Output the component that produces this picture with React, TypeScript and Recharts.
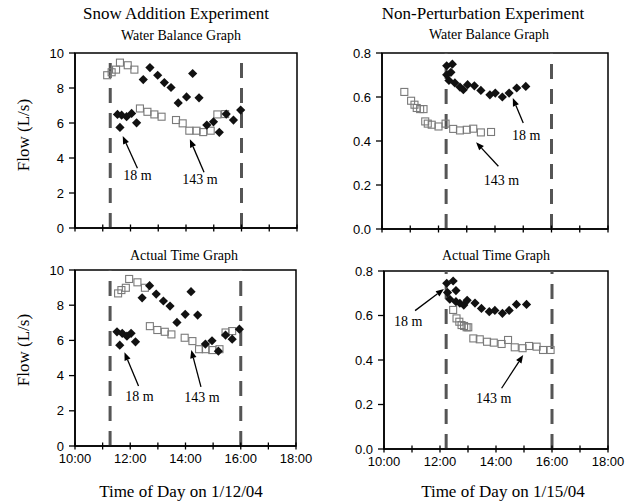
import React from "react";
import {
  ReferenceArea,
  ReferenceLine,
  Scatter,
  ScatterChart,
  XAxis,
  YAxis,
} from "recharts";

// snow addition, water balance graph (time in decimal hours)
const SNOW_WB_18_T = [11.53, 11.68, 11.62, 11.86, 12.04, 12.22, 12.46, 12.7, 12.98, 13.22, 13.46, 13.72, 14.02, 14.24, 14.47, 14.75, 14.99, 15.2, 15.45, 15.71, 15.97];
const SNOW_WB_18_Q = [6.49, 6.45, 5.75, 6.36, 6.55, 6.01, 8.48, 9.17, 8.73, 8.31, 8.03, 7.15, 7.49, 8.83, 7.44, 5.88, 6.07, 5.47, 6.51, 6.17, 6.74];
const SNOW_WB_143_T = [11.16, 11.32, 11.48, 11.62, 11.9, 12.14, 12.34, 12.61, 12.86, 13.12, 13.64, 13.88, 14.12, 14.38, 14.62, 14.89, 15.13, 15.41];
const SNOW_WB_143_Q = [8.73, 8.9, 9.05, 9.45, 9.3, 9.05, 6.83, 6.64, 6.49, 6.36, 6.17, 5.98, 5.56, 5.56, 5.48, 5.56, 6.49, 6.51];

// snow addition, actual time graph
const SNOW_AT_18_T = [11.52, 11.71, 11.62, 11.88, 12.03, 12.19, 12.43, 12.7, 12.94, 13.2, 13.44, 13.69, 13.99, 14.2, 14.44, 14.72, 14.96, 15.19, 15.45, 15.69, 15.95];
const SNOW_AT_18_Q = [6.49, 6.4, 5.73, 6.24, 6.4, 5.92, 8.42, 9.11, 8.63, 8.24, 7.95, 7.02, 7.48, 8.77, 7.44, 5.79, 5.98, 5.39, 6.3, 6.07, 6.64];
const SNOW_AT_143_T = [11.56, 11.68, 11.84, 11.96, 12.26, 12.53, 12.71, 12.98, 13.25, 13.49, 13.97, 14.25, 14.49, 14.73, 14.97, 15.23, 15.45, 15.69];
const SNOW_AT_143_Q = [8.67, 8.86, 8.99, 9.49, 9.3, 8.99, 6.81, 6.59, 6.49, 6.34, 6.15, 5.96, 5.5, 5.5, 5.45, 5.5, 6.45, 6.53];

// non-perturbation, water balance graph
const NP_WB_18_T = [12.29, 12.49, 12.44, 12.29, 12.37, 12.58, 12.76, 12.88, 13.03, 13.27, 13.5, 13.82, 14.01, 14.26, 14.5, 14.77, 15.09];
const NP_WB_18_Q = [0.742, 0.749, 0.712, 0.701, 0.675, 0.664, 0.645, 0.633, 0.656, 0.651, 0.63, 0.61, 0.618, 0.6, 0.618, 0.641, 0.648];
const NP_WB_143_T = [10.79, 11.03, 11.15, 11.23, 11.35, 11.47, 11.53, 11.62, 11.76, 12.0, 12.25, 12.52, 12.76, 13.0, 13.23, 13.5, 13.86];
const NP_WB_143_Q = [0.623, 0.583, 0.565, 0.55, 0.545, 0.545, 0.489, 0.479, 0.474, 0.466, 0.479, 0.455, 0.448, 0.451, 0.456, 0.439, 0.441];

// non-perturbation, actual time graph
const NP_AT_18_T = [12.24, 12.47, 12.57, 12.27, 12.35, 12.57, 12.71, 12.85, 12.97, 13.25, 13.48, 13.76, 13.96, 14.23, 14.47, 14.73, 15.09];
const NP_AT_18_Q = [0.745, 0.755, 0.712, 0.703, 0.673, 0.662, 0.655, 0.647, 0.668, 0.656, 0.632, 0.617, 0.623, 0.61, 0.623, 0.65, 0.65];
const NP_AT_143_T = [12.47, 12.59, 12.69, 12.77, 12.86, 12.95, 13.01, 13.19, 13.42, 13.68, 13.92, 14.2, 14.43, 14.67, 14.95, 15.18, 15.45, 15.68, 15.95];
const NP_AT_143_Q = [0.625, 0.587, 0.572, 0.557, 0.553, 0.547, 0.547, 0.497, 0.493, 0.482, 0.478, 0.472, 0.49, 0.457, 0.453, 0.463, 0.46, 0.445, 0.445];

const HOUR_TICKS = [10, 11, 12, 13, 14, 15, 16, 17, 18];
const SNOW_Y_TICKS = [0, 2, 4, 6, 8, 10];
const NP_Y_TICKS = [0, 0.2, 0.4, 0.6, 0.8];

const SERIF = '"Liberation Serif", "Times New Roman", serif';
const SANS = '"Liberation Sans", Arial, sans-serif';
const DASH_GREY = "#555555";
const SQUARE_GREY = "#7a7a7a";
const X_TICK_SIZE = 4;
const X_TICK_MARGIN = 4;

const zip = (t: number[], q: number[]) => t.map((x, i) => ({ t: x, q: q[i] }));

function Diamond(props: any) {
  const { cx, cy } = props;
  if (cx == null || cy == null) return null;
  const r = 4.6;
  return (
    <polygon
      points={`${cx},${cy - r} ${cx + r},${cy} ${cx},${cy + r} ${cx - r},${cy}`}
      fill="#111"
    />
  );
}

function Square(props: any) {
  const { cx, cy } = props;
  if (cx == null || cy == null) return null;
  const s = 7;
  return (
    <rect
      x={cx - s / 2}
      y={cy - s / 2}
      width={s}
      height={s}
      fill="none"
      stroke={SQUARE_GREY}
      strokeWidth={1.1}
    />
  );
}

// x ticks in the original cross the axis line, so draw them by hand
function makeXTick(showLabels: boolean) {
  return (p: any) => {
    const { x, y, payload } = p;
    const axisY = y - X_TICK_SIZE - X_TICK_MARGIN;
    const h = payload.value as number;
    return (
      <g>
        <line x1={x} x2={x} y1={axisY - 3.5} y2={axisY + 3.5} stroke="#000" strokeWidth={1.3} />
        {showLabels && h % 2 === 0 ? (
          <text
            x={x}
            y={y}
            dy="0.71em"
            textAnchor="middle"
            fontFamily={SANS}
            fontSize={13}
            fill="#000"
          >
            {`${h}:00`}
          </text>
        ) : null}
      </g>
    );
  };
}

type Note = {
  text: string;
  tail: [number, number];
  tip: [number, number];
  dx: number;
  dy: number;
};

function arrowShape(note: Note) {
  return (p: any) => {
    const { x1, y1, x2, y2 } = p;
    if (x1 == null || x2 == null) return <g />;
    const ang = Math.atan2(y2 - y1, x2 - x1);
    const len = 8;
    const half = 3.2;
    const bx = x2 - len * Math.cos(ang);
    const by = y2 - len * Math.sin(ang);
    const nx = -Math.sin(ang) * half;
    const ny = Math.cos(ang) * half;
    return (
      <g>
        <line x1={x1} y1={y1} x2={bx} y2={by} stroke="#000" strokeWidth={1.3} />
        <polygon
          points={`${x2},${y2} ${bx + nx},${by + ny} ${bx - nx},${by - ny}`}
          fill="#000"
        />
        <text
          x={x1 + note.dx}
          y={y1 + note.dy}
          textAnchor="middle"
          dominantBaseline="central"
          fontFamily={SERIF}
          fontSize={14}
          fill="#000"
        >
          {note.text}
        </text>
      </g>
    );
  };
}

type PanelProps = {
  left: number;
  top: number;
  width: number;
  height: number;
  margin: { top: number; right: number; bottom: number; left: number };
  d18: { t: number; q: number }[];
  d143: { t: number; q: number }[];
  yMax: number;
  yTicks: number[];
  yFmt: (v: number) => string;
  showXLabels: boolean;
  dashes: number[];
  notes: Note[];
};

function Panel(props: PanelProps) {
  const { yMax } = props;
  return (
    <div style={{ position: "absolute", left: props.left, top: props.top }}>
      <ScatterChart width={props.width} height={props.height} margin={props.margin}>
        <XAxis
          type="number"
          dataKey="t"
          domain={[10, 18]}
          ticks={HOUR_TICKS}
          interval={0}
          height={25}
          tickSize={X_TICK_SIZE}
          tickMargin={X_TICK_MARGIN}
          tick={makeXTick(props.showXLabels)}
          tickLine={false}
          axisLine={{ stroke: "#000", strokeWidth: 1.5 }}
        />
        <YAxis
          type="number"
          dataKey="q"
          domain={[0, yMax]}
          ticks={props.yTicks}
          interval={0}
          width={45}
          tickSize={6}
          tickMargin={5}
          tickFormatter={props.yFmt}
          tick={{ fill: "#000", fontSize: 13, fontFamily: SANS }}
          tickLine={{ stroke: "#000", strokeWidth: 1.3 }}
          axisLine={{ stroke: "#000", strokeWidth: 1.5 }}
        />
        <ReferenceArea
          x1={10}
          x2={18}
          y1={0}
          y2={yMax}
          fill="none"
          fillOpacity={0}
          stroke="#000"
          strokeWidth={1.5}
        />
        {props.dashes.map((x) => (
          <ReferenceLine
            key={x}
            x={x}
            stroke={DASH_GREY}
            strokeWidth={3}
            strokeDasharray="15 10"
          />
        ))}
        <Scatter data={props.d143} shape={<Square />} isAnimationActive={false} />
        <Scatter data={props.d18} shape={<Diamond />} isAnimationActive={false} />
        {props.notes.map((n) => (
          <ReferenceLine
            key={n.text}
            segment={[
              { x: n.tail[0], y: n.tail[1] },
              { x: n.tip[0], y: n.tip[1] },
            ]}
            shape={arrowShape(n)}
          />
        ))}
      </ScatterChart>
    </div>
  );
}

function Txt({
  x,
  y,
  size,
  children,
  rotate,
}: {
  x: number;
  y: number;
  size: number;
  children: React.ReactNode;
  rotate?: boolean;
}) {
  return (
    <div
      style={{
        position: "absolute",
        left: x,
        top: y,
        transform: `translate(-50%, -50%)${rotate ? " rotate(-90deg)" : ""}`,
        fontFamily: SERIF,
        fontSize: size,
        lineHeight: 1,
        whiteSpace: "nowrap",
        color: "#000",
      }}
    >
      {children}
    </div>
  );
}

const intFmt = (v: number) => String(v);
const oneDec = (v: number) => v.toFixed(1);

export default function App() {
  return (
    <div
      style={{
        position: "absolute",
        left: 0,
        top: 0,
        width: 638,
        height: 502,
        background: "#fff",
        overflow: "hidden",
      }}
    >
      <Panel
        left={0}
        top={0}
        width={320}
        height={260}
        margin={{ top: 53, right: 23, bottom: 7, left: 30 }}
        d18={zip(SNOW_WB_18_T, SNOW_WB_18_Q)}
        d143={zip(SNOW_WB_143_T, SNOW_WB_143_Q)}
        yMax={10}
        yTicks={SNOW_Y_TICKS}
        yFmt={intFmt}
        showXLabels={false}
        dashes={[11.27, 16]}
        notes={[
          { text: "18 m", tail: [12.25, 3.42], tip: [11.72, 5.26], dx: 0, dy: 7 },
          { text: "143 m", tail: [14.65, 3.19], tip: [14.14, 5.07], dx: -4, dy: 7 },
        ]}
      />
      <Panel
        left={320}
        top={0}
        width={318}
        height={260}
        margin={{ top: 53, right: 30, bottom: 6, left: 17 }}
        d18={zip(NP_WB_18_T, NP_WB_18_Q)}
        d143={zip(NP_WB_143_T, NP_WB_143_Q)}
        yMax={0.8}
        yTicks={NP_Y_TICKS}
        yFmt={oneDec}
        showXLabels={false}
        dashes={[12.27, 16]}
        notes={[
          { text: "18 m", tail: [15.0, 0.482], tip: [14.63, 0.595], dx: 3, dy: 13 },
          { text: "143 m", tail: [14.12, 0.285], tip: [13.33, 0.394], dx: 3, dy: 14 },
        ]}
      />
      <Panel
        left={0}
        top={250}
        width={320}
        height={230}
        margin={{ top: 20, right: 24, bottom: 9, left: 30 }}
        d18={zip(SNOW_AT_18_T, SNOW_AT_18_Q)}
        d143={zip(SNOW_AT_143_T, SNOW_AT_143_Q)}
        yMax={10}
        yTicks={SNOW_Y_TICKS}
        yFmt={intFmt}
        showXLabels={true}
        dashes={[11.27, 16]}
        notes={[
          { text: "18 m", tail: [12.3, 3.41], tip: [11.79, 5.32], dx: 1, dy: 11 },
          { text: "143 m", tail: [14.56, 3.36], tip: [14.21, 5.45], dx: 1, dy: 11 },
        ]}
      />
      <Panel
        left={320}
        top={250}
        width={318}
        height={230}
        margin={{ top: 21, right: 30, bottom: 6, left: 19 }}
        d18={zip(NP_AT_18_T, NP_AT_18_Q)}
        d143={zip(NP_AT_143_T, NP_AT_143_Q)}
        yMax={0.8}
        yTicks={NP_Y_TICKS}
        yFmt={oneDec}
        showXLabels={true}
        dashes={[12.22, 16]}
        notes={[
          { text: "18 m", tail: [11.11, 0.622], tip: [12.14, 0.719], dx: -7, dy: 11 },
          { text: "143 m", tail: [14.2, 0.273], tip: [14.97, 0.422], dx: -8, dy: 10 },
        ]}
      />

      <Txt x={176} y={13} size={17}>Snow Addition Experiment</Txt>
      <Txt x={181} y={36} size={14}>Water Balance Graph</Txt>
      <Txt x={483} y={13} size={17}>Non-Perturbation Experiment</Txt>
      <Txt x={489} y={35} size={14}>Water Balance Graph</Txt>
      <Txt x={184} y={256} size={14}>Actual Time Graph</Txt>
      <Txt x={496} y={256} size={14}>Actual Time Graph</Txt>
      <Txt x={181} y={491} size={17}>Time of Day on 1/12/04</Txt>
      <Txt x={503} y={491} size={17}>Time of Day on 1/15/04</Txt>
      <Txt x={23} y={135} size={17} rotate>Flow (L/s)</Txt>
      <Txt x={23} y={350} size={17} rotate>Flow (L/s)</Txt>
    </div>
  );
}
